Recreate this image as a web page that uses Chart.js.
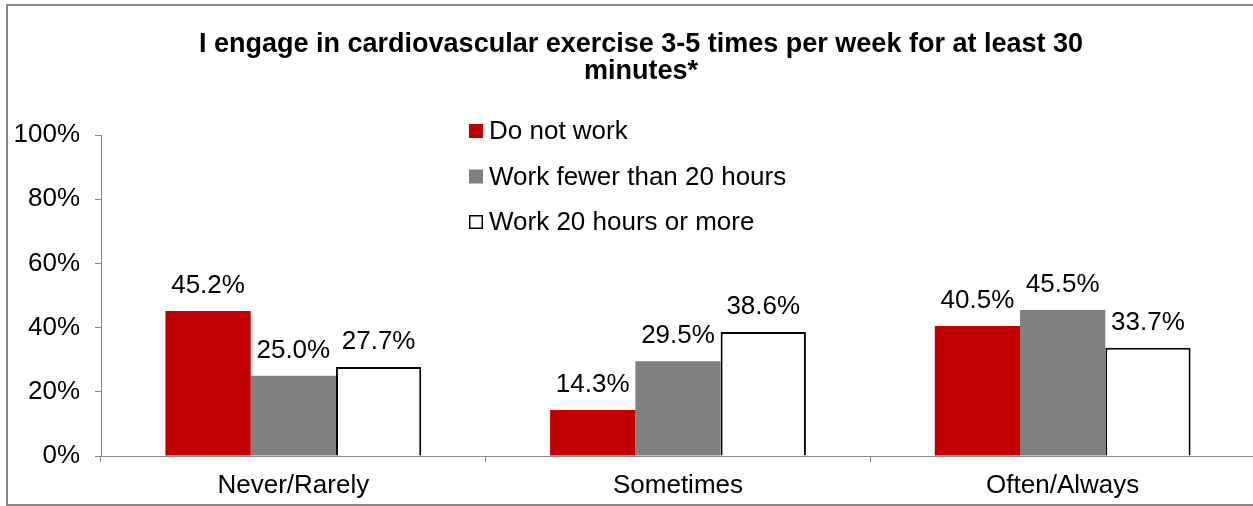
<!DOCTYPE html>
<html>
<head>
<meta charset="utf-8">
<script src="https://cdn.jsdelivr.net/npm/chart.js@4/dist/chart.umd.min.js"></script>
<style>
  html, body { margin: 0; padding: 0; background: #fff; overflow: hidden; }
  #wrap { width: 1262px; height: 506px; }
</style>
</head>
<body>
<div id="wrap"><canvas id="chart" width="1262" height="506"></canvas></div>
<script>
const categories = ['Never/Rarely', 'Sometimes', 'Often/Always'];
const seriesNames = ['Do not work', 'Work fewer than 20 hours', 'Work 20 hours or more'];
const doNotWork = [45.2, 14.3, 40.5];
const fewerThan20 = [25.0, 29.5, 45.5];
const twentyOrMore = [27.7, 38.6, 33.7];
const yTicks = [0, 20, 40, 60, 80, 100];
const titleLines = ['I engage in cardiovascular exercise 3-5 times per week for at least 30', 'minutes*'];

const axisColor = '#868686';
const fontFamily = 'Arial, "Liberation Sans", sans-serif';

// frame + title
const framePlugin = {
    id: 'frame',
    beforeDraw(chart) {
        const ctx = chart.ctx;
        ctx.save();
        ctx.fillStyle = '#fff';
        ctx.fillRect(0, 0, chart.width, chart.height);
        ctx.strokeStyle = axisColor;
        ctx.lineWidth = 2;
        ctx.strokeRect(7, 5, chart.width, 500);
        ctx.fillStyle = '#000';
        ctx.font = 'bold 27px ' + fontFamily;
        ctx.textAlign = 'center';
        ctx.textBaseline = 'middle';
        ctx.fillText(titleLines[0], 641, 45);
        ctx.fillText(titleLines[1], 641, 72);
        ctx.restore();
    }
};

// legend drawn inside the plot
const legendPlugin = {
    id: 'insideLegend',
    afterDraw(chart) {
        const ctx = chart.ctx;
        ctx.save();
        ctx.font = '26px ' + fontFamily;
        ctx.textBaseline = 'middle';
        ctx.textAlign = 'left';
        chart.data.datasets.forEach((ds, i) => {
            const y = 131 + i * 45.5;
            ctx.fillStyle = ds.backgroundColor;
            ctx.fillRect(469, y - 7, 14, 14);
            if (ds.backgroundColor === '#FFFFFF') {
                ctx.strokeStyle = '#000';
                ctx.lineWidth = 1.5;
                ctx.strokeRect(469.75, y - 6.25, 12.5, 12.5);
            }
            ctx.fillStyle = '#000';
            ctx.fillText(ds.label, 489, y + 1);
        });
        ctx.restore();
    }
};

// value labels above bars
const valueLabels = {
    id: 'valueLabels',
    afterDatasetsDraw(chart) {
        const ctx = chart.ctx;
        ctx.save();
        ctx.font = '26px ' + fontFamily;
        ctx.fillStyle = '#000';
        ctx.textAlign = 'center';
        ctx.textBaseline = 'middle';
        chart.data.datasets.forEach((ds, i) => {
            chart.getDatasetMeta(i).data.forEach((bar, j) => {
                ctx.fillText(ds.data[j].toFixed(1) + '%', bar.x, bar.y - 25);
            });
        });
        ctx.restore();
    }
};

new Chart(document.getElementById('chart'), {
    type: 'bar',
    data: {
        labels: categories,
        datasets: [
            { label: seriesNames[0], data: doNotWork, backgroundColor: '#C00000', borderColor: '#C00000', borderWidth: 0 },
            { label: seriesNames[1], data: fewerThan20, backgroundColor: '#808080', borderColor: '#808080', borderWidth: 0 },
            { label: seriesNames[2], data: twentyOrMore, backgroundColor: '#FFFFFF', borderColor: '#000000', borderWidth: 2 }
        ]
    },
    options: {
        responsive: false,
        animation: false,
        categoryPercentage: 0.665,
        barPercentage: 1,
        layout: { padding: { left: 0, top: 135, right: 7, bottom: 0 } },
        plugins: {
            legend: { display: false },
            title: { display: false },
            tooltip: { enabled: false }
        },
        scales: {
            x: {
                afterFit: scale => { scale.height = 50; },
                grid: { offset: true, drawOnChartArea: false, drawTicks: true, tickLength: 6, color: axisColor },
                border: { color: axisColor, width: 1 },
                ticks: { color: '#000', padding: 8, font: { size: 26, family: fontFamily } }
            },
            y: {
                min: 0,
                max: 100,
                afterFit: scale => { scale.width = 101; },
                afterBuildTicks: scale => { scale.ticks = yTicks.map(v => ({ value: v })); },
                grid: { drawOnChartArea: false, drawTicks: true, tickLength: 6, color: axisColor },
                border: { color: axisColor, width: 1 },
                ticks: { color: '#000', padding: 15, callback: v => v + '%', font: { size: 26, family: fontFamily } }
            }
        }
    },
    plugins: [framePlugin, valueLabels, legendPlugin]
});
</script>
</body>
</html>
